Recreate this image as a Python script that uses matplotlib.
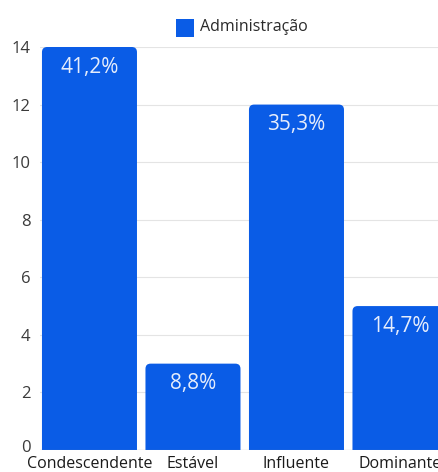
import matplotlib.pyplot as plt
import matplotlib.transforms as mtransforms
from matplotlib.patches import FancyBboxPatch

categorias = ["Condescendente", "Estável", "Influente", "Dominante"]
valores = [14, 3, 12, 5]
rotulos = ["41,2%", "8,8%", "35,3%", "14,7%"]
serie = "Administração"

azul = "#0a5ce6"
plt.rcParams['font.family'] = ['Open Sans', 'DejaVu Sans']

fig = plt.figure(figsize=(4.39, 4.72), dpi=100)
W, H = 439, 472
# axes em pixels: esquerda 40, direita 439, topo 47, base 450
ax = fig.add_axes([40 / W, (H - 450) / H, (439 - 40) / W, (450 - 47) / H])

x = list(range(len(categorias)))
barras = ax.bar(x, valores, width=0.918, color=azul, alpha=0)
for b in barras:
    # cantos arredondados (a parte de baixo fica fora do eixo)
    p = FancyBboxPatch((b.get_x(), -1), b.get_width(), b.get_height() + 1,
                       boxstyle="round,pad=0,rounding_size=0.05",
                       mutation_aspect=3.586, fc=azul, ec="none", zorder=3)
    ax.add_patch(p)

for xi, v, r in zip(x, valores, rotulos):
    ax.text(xi, v - 0.7, r, ha="center", va="center", color="#e6edfc",
            fontsize=15, zorder=4)

ax.set_xlim(-0.478, 3.377)
ax.set_ylim(0, 14)
ax.set_yticks(range(0, 15, 2))
ax.set_xticks(x)
ax.set_xticklabels(categorias, fontsize=11.5, color="#1a1a1a")
ax.tick_params(axis="y", length=0, pad=7, labelsize=12, labelcolor="#3a3a3a")
ax.tick_params(axis="x", length=0, pad=4)
ax.grid(axis="y", color="#e4e4e4", linewidth=0.8, zorder=0)
ax.set_axisbelow(True)
for s in ax.spines.values():
    s.set_visible(False)
ax.axhline(0, color="#999999", linewidth=0.8, zorder=5)
# o "0" fica um pouco acima da linha de base
zero = ax.get_yticklabels()[0]
zero.set_transform(zero.get_transform() +
                   mtransforms.ScaledTranslation(0, 3 / 72, fig.dpi_scale_trans))

# legenda
fig.patches.append(plt.Rectangle((176 / W, 1 - 37 / H), 18 / W, 18 / H,
                                 transform=fig.transFigure, fc=azul, ec="none"))
fig.text(200 / W, 1 - 27 / H, serie, va="center", ha="left", fontsize=11.5,
         color="#2a2a2a")

fig.savefig("out.png", dpi=100)
